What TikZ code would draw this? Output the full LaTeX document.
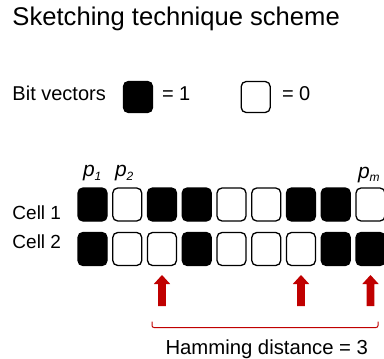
\documentclass[tikz,border=0pt]{standalone}
\usepackage{fontspec}
\setmainfont{Liberation Sans}
\definecolor{darkred}{HTML}{C00000}
\newcommand{\psub}[2]{{\itshape #1\raisebox{-3.5pt}{\fontsize{12}{12}\selectfont #2}}}
\begin{document}
\begin{tikzpicture}[x=1pt,y=-1pt,
  txt/.style={anchor=base west,inner sep=0pt,outer sep=0pt},
  bitbox/.style={draw=black,line width=1.3pt,rounded corners=5pt,minimum width=29pt,minimum height=33pt,inner sep=0pt},
  one/.style={bitbox,fill=black},
  zero/.style={bitbox,fill=white},
  redarrow/.style={fill=darkred},
  bracket/.style={draw=darkred,line width=1pt,rounded corners=2pt}]
\useasboundingbox (0,0) rectangle (384,359);
\fill[white] (0,0) rectangle (384,359);
% title
\node[txt,font=\fontsize{25.6}{30}\selectfont] (title) at (12.5,25) {Sketching technique scheme};
% legend
\node[txt,font=\fontsize{20}{24}\selectfont] (bv) at (12.5,100.7) {Bit vectors};
\node[one,minimum height=31pt] (leg1) at (138,97) {};
\node[txt,font=\fontsize{20}{24}\selectfont] (eq1) at (162,100.7) {= 1};
\node[zero,minimum height=31pt] (leg0) at (255.7,97) {};
\node[txt,font=\fontsize{20}{24}\selectfont] (eq0) at (282,100.7) {= 0};
% p labels
\node[txt,font=\fontsize{21}{24}\selectfont] (p1) at (83,176.5) {\psub{p}{1}};
\node[txt,font=\fontsize{21}{24}\selectfont] (p2) at (115,176.5) {\psub{p}{2}};
\node[txt,font=\fontsize{21}{24}\selectfont] (pm) at (358,178) {\psub{p}{m}};
% row labels
\node[txt,font=\fontsize{19}{22}\selectfont] (c1) at (12.5,219.3) {Cell 1};
\node[txt,font=\fontsize{19}{22}\selectfont] (c2) at (12.5,248.3) {Cell 2};
% rows
\foreach \v [count=\i] in {1,0,1,1,0,0,1,1,0} {
  \ifnum\v=1 \def\st{one}\else\def\st{zero}\fi
  \node[\st] (a\i) at ({92.5+(\i-1)*34.75},204.5) {};
}
\foreach \v [count=\i] in {1,0,0,1,0,0,0,1,1} {
  \ifnum\v=1 \def\st{one}\else\def\st{zero}\fi
  \node[\st] (b\i) at ({92.5+(\i-1)*34.75},249) {};
}
% arrows
\foreach \j in {3,7,9} {
  \path (b\j.center) ++(0,26) coordinate (t\j);
  \fill[redarrow] (t\j) ++(-3.8,31) -- ++(0,-22) -- ++(-4.4,0) -- ++(8.2,-9) -- ++(8.2,9) -- ++(-4.4,0) -- ++(0,22) -- cycle;
}
% bracket
\coordinate (bl) at (152,321.5);
\coordinate (br) at (378,321.5);
\draw[bracket] (bl) -- ++(0,6) -| (br);
\node[txt,font=\fontsize{20.3}{24}\selectfont] (hd) at (165.5,354.3) {Hamming distance = 3};
\end{tikzpicture}
\end{document}
